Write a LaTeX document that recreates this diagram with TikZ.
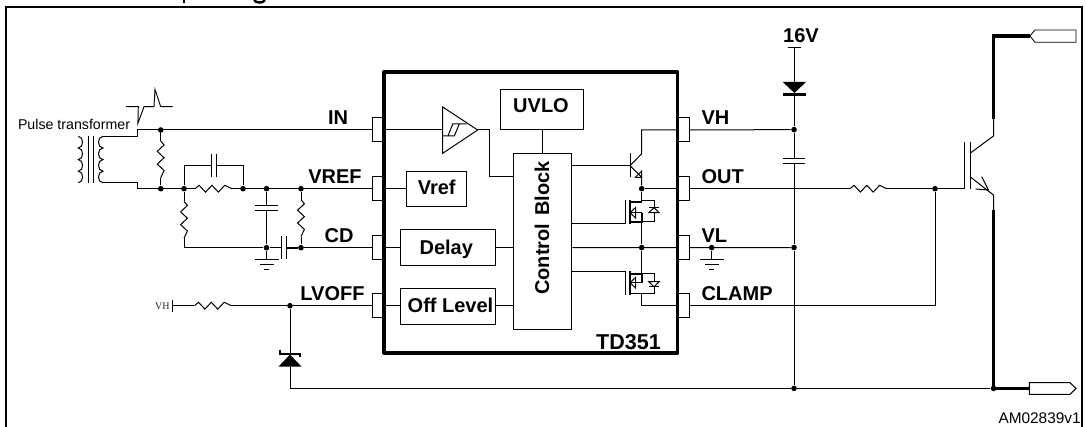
\documentclass[tikz,border=0pt]{standalone}
\usepackage{fontspec}
\setmainfont{Liberation Sans}
\newfontfamily\serifsmall{Liberation Serif}
\tikzset{
  wire/.style={line width=1pt,line join=miter},
  thickwire/.style={line width=3.6pt},
  boxed/.style={draw,line width=1pt,fill=white,inner sep=0pt},
  pinbox/.style={draw,line width=1pt,fill=white,minimum width=12pt,minimum height=24pt,inner sep=0pt},
  junction/.style={circle,fill=black,inner sep=0pt,minimum size=5.6pt},
  lbl/.style={inner sep=0pt,anchor=base,font=\fontsize{20}{20}\selectfont\bfseries},
  lblleft/.style={lbl,anchor=base west},
  resz/.pic={
    \fill[white] (-18.5,-5) rectangle (18.5,5);
    \draw[wire] (-18.4,0)--(-14.4,-3.4)--(-8,3.4)--(-1.6,-3.4)--(4.8,3.4)--(11.2,-3.4)--(18.4,0);
  },
  capa/.pic={
    \fill[white] (-2.6,-5) rectangle (2.6,5);
    \draw[wire] (-2.6,-11.3)--(-2.6,11.3) (2.6,-11.3)--(2.6,11.3);
  },
  gnd/.pic={
    \draw[wire] (-12,0)--(12,0) (-7,5)--(7,5) (-2.5,10)--(2.5,10);
  }
}
\begin{document}
\begin{tikzpicture}[x=1pt,y=-1pt,wire]
\useasboundingbox (0,0) rectangle (1086,427);
\fill[white] (0,0) rectangle (1086,427);
% clipped title descenders and frame
\draw[line width=2.4pt] (184,0)--(184,3);
\draw[line width=2.4pt] (254,0) .. controls (256,3.4) and (263,3.4) .. (265,0);
\draw[line width=2.5pt] (6,427)--(6,7)--(1081.8,7)--(1081.8,427);

% ---- pins
\node[pinbox] (pIN) at (378,130) {};
\node[pinbox] (pVREF) at (378,188.7) {};
\node[pinbox] (pCD) at (378,247.7) {};
\node[pinbox] (pLV) at (378,305.7) {};
\node[pinbox] (pVH) at (683.5,130) {};
\node[pinbox] (pOUT) at (683.5,188.7) {};
\node[pinbox] (pVL) at (683.5,247.7) {};
\node[pinbox] (pCL) at (683.5,306) {};

% ---- IC blocks
\node[boxed,minimum width=82.6pt,minimum height=40.7pt] (uvlo) at (542,109.6) {};
\node[boxed,minimum width=58.7pt,minimum height=175.6pt] (ctl) at (542.6,241.5) {};
\node[boxed,minimum width=59.3pt,minimum height=35.3pt] (vref) at (436.6,188.7) {};
\node[boxed,minimum width=94.7pt,minimum height=35.6pt] (delay) at (448.3,247.5) {};
\node[boxed,minimum width=94.7pt,minimum height=35.6pt] (off) at (448.3,306.5) {};

% ---- junctions and free ends
\coordinate (tT) at (103,136.4);
\coordinate (tB) at (103,182.8);
\coordinate (bendT) at (137.7,136.4);
\coordinate (inS) at (137.7,130);
\coordinate (bendB) at (137.7,182.8);
\coordinate (refS) at (137.7,188.7);
\coordinate (vhbar) at (172.5,305.7);
\coordinate (zen) at (290,366.7);
\coordinate (zenK) at (290,354);
\coordinate (botL) at (290,388.4);
\coordinate (cTop) at (794,48);
\coordinate (dA) at (794,82);
\coordinate (dK) at (794,94.5);
\coordinate (gate) at (964,188.7);
\coordinate (cEnd) at (993.5,136);
\coordinate (eEnd) at (993.5,195);
\coordinate (tagT) at (1030,36);
\coordinate (tagB) at (1029.3,388.4);
\coordinate (thT) at (993.5,36);
\coordinate (thU) at (993.5,119);
\coordinate (thL) at (993.5,210);
\coordinate (cmpI) at (442.7,130);
\coordinate (cmpO) at (477.7,130);
\coordinate (ebend) at (641.7,177.3);
\node[junction] (j1) at (160.7,130) {};
\node[junction] (j2) at (160.7,188.7) {};
\node[junction] (j3) at (184,188.7) {};
\node[junction] (j4) at (243,188.7) {};
\node[junction] (j5) at (266.5,188.7) {};
\node[junction] (j6) at (301,188.7) {};
\node[junction] (j7) at (266.5,247.7) {};
\node[junction] (j8) at (301,247.7) {};
\node[junction] (j9) at (290,305.7) {};
\node[junction] (jOi) at (641.7,188.7) {};
\node[junction] (jVi) at (641.7,247.6) {};
\node[junction] (jVL) at (711.7,247.6) {};
\node[junction] (jVH) at (794,129.6) {};
\node[junction] (jV2) at (794,247.5) {};
\node[junction] (jB) at (794,388.4) {};
\node[junction] (jG) at (935,188.7) {};
\node[junction] (jE) at (993.5,388.4) {};

% ---- input network
\draw (tT)--(bendT)--(inS)--(pIN.west);
\draw (tB)--(bendB)--(refS)--(pVREF.west);
\draw (j1) -- pic[pos=.5,sloped]{resz} (j2);
\draw (j3) |- (243,165.5) -- (j4);
\fill[white] (211.7,160) rectangle (216.9,171);
\draw (211.7,154.2)--(211.7,176.8) (216.9,154.2)--(216.9,176.8);
\fill[white] (194,183) rectangle (233,195);
\path (j3) -- pic[pos=.5]{resz} (j4);
\draw (j3) -- (194.9,188.7);
\draw (232.1,188.7) -- (j4);
\draw (j3) -- pic[pos=.5,sloped]{resz} (184,247.7) -- (j7);
\draw (j5) -- pic[pos=.3,sloped]{capa} (j7);
\draw (j6) -- pic[pos=.5,sloped]{resz} (j8);
\draw (j8) -- (pCD.west);
\draw (j7) -- pic[pos=.5]{capa} (j8);
\draw[line width=2pt] (287,247.7) -- (j8);
\draw (j7) -- (266.5,259.5);
\pic at (266.5,259.5) {gnd};
% transformer
\draw (78.3,136.4)
  \foreach \i in {0,1,2,3} { .. controls (84,{136.4+\i*11.6}) and (84,{148+\i*11.6}) .. (78.3,{148+\i*11.6}) };
\draw (103,136.4)
  \foreach \i in {0,1,2,3} { .. controls (97,{136.4+\i*11.6}) and (97,{148+\i*11.6}) .. (103,{148+\i*11.6}) };
\draw (88.3,136)--(88.3,183) (93.3,136)--(93.3,183);
% pulse waveform
\draw[line width=0.95pt] (126,106.7)--(138.3,106.7)--(137.9,123.3)--(144,106.7)--(154,106.7)--(155,89.3)--(160.7,106.7)--(172.7,106.7);

% ---- LVOFF network
\draw (172.5,300)--(172.5,312);
\draw (vhbar) -- pic[pos=.354]{resz} (j9);
\draw (j9) -- (pLV.west);
\draw (j9) -- (zenK);
\draw (zen) -- (botL) -- (jB);
\draw (jB) -- (jE);
\fill (278.4,366.7)--(301.6,366.7)--(290,354.6)--cycle;
\draw[line width=1.9pt] (280,349.6)--(280,354)--(300.4,354)--(300.4,357);

% ---- IC internals
\draw (pIN.east) -- (cmpI);
\draw (442.7,107)--(cmpO)--(442.7,153.3)--cycle;
\draw (442,136)--(454.3,136)--(459.3,124) (448,136)--(452.7,124)--(466.7,124);
\draw (cmpO) -| (489.7,177) -- (ctl.west |- 489.7,177);
\draw (uvlo.south) -- (ctl.north -| uvlo.south);
\draw (pVREF.east) -- (vref.west);
\draw (pCD.east) -- (delay.west |- pCD.east);
\draw (pLV.east) -- (off.west |- pLV.east);
\draw (delay.east |- pCD.east) -- (ctl.west |- pCD.east);
\draw (off.east |- pLV.east) -- (ctl.west |- pLV.east);
% NPN
\draw (ctl.east |- 0,165.7) -- (630,165.7);
\draw (630,153.3)--(630,177.3);
\draw (630,165.7)--(641.7,153.7)--(641.7,130)--(pVH.west);
\draw (630,165.7)--(ebend)--(jOi);
\draw (635.5,177.3)--(641.7,177.3)--(641.7,171)--cycle;
\draw (jOi) -- (pOUT.west);
\draw (ctl.east |- jVi) -- (pVL.west);
% upper MOSFET
\draw (ctl.east |- 0,223.7) -- (625,223.7) -- (625,200);
\draw[line width=1.8pt] (630,200)--(630,224) (630,201.7)--(642,201.7) (630,221.7)--(642,221.7)--(642,212.7);
\draw (642,212.7)--(630,212.7);
\draw (635.5,207.5)--(630,212.7)--(635.5,217.9)--cycle;
\draw (jOi) -- (641.7,201.7);
\draw (641.7,200.7)--(654,200.7)--(654,221.7)--(641.7,221.7);
\draw[fill=white] (654,207.7)--(648.8,212.7)--(659.2,212.7)--cycle;
\draw (648.8,207.7)--(659.2,207.7);
\draw (641.7,221.7) -- (jVi);
% lower MOSFET
\draw (ctl.east |- 0,271.3) -- (625,271.3) -- (625,294.7);
\draw[line width=1.8pt] (630,271)--(630,295) (630,273.7)--(642,273.7)--(642,282.7);
\draw (642,282.7)--(630,282.7) (630,293.3)--(642,293.3);
\draw (635.5,277.5)--(630,282.7)--(635.5,287.9)--cycle;
\draw (jVi) -- (641.7,273.7);
\draw (641.7,273.7)--(654,273.7)--(654,293.3)--(641.7,293.3);
\draw[fill=white] (654,286.7)--(648.8,281.7)--(659.2,281.7)--cycle;
\draw (648.8,286.7)--(659.2,286.7);
\draw (641.7,293.3) -- (641.7,306) -- (pCL.west);

% ---- IC outline
\draw[line width=3.2pt,line join=round] (384,72) rectangle (677.7,353);

% ---- right side
\draw (pVH.east) -- (jVH);
\draw (pOUT.east) -- pic[pos=.738]{resz} (jG);
\draw (jG) -- (gate);
\draw (pVL.east) -- (jV2);
\draw (jVL) -- (711.7,259.4);
\pic at (711.7,259.4) {gnd};
\draw (pCL.east) -| (jG);
\draw (787.5,48)--(801,48);
\draw (cTop) -- (dA);
\fill (782.8,82)--(806,82)--(794.4,93)--cycle;
\draw[line width=2.2pt] (783,94.5)--(806,94.5);
\draw (dK) -- (jVH);
\draw (jVH) -- pic[pos=.25,sloped]{capa} (jV2);
\draw (jV2) -- (jB);
% IGBT
\draw (gate) -- (964,141.7);
\draw (970,141.7)--(970,189);
\draw (970,153.3)--(cEnd)--(thU);
\draw (970,176.7)--(eEnd)--(thL);
\draw (981.7,176.7)--(988.3,190)--(975.7,189);
\draw[thickwire,line join=miter] (thU)--(thT)--(tagT);
\draw[thickwire] (thL)--(jE.center)--(tagB);
\draw[fill=white,line width=0.8pt] (tagT)--(1035,30)--(1076,30)--(1076,42.3)--(1035,42.3)--cycle;
\draw[fill=white,line width=1pt] (tagB |- 0,382.7)--(1070,382.7)--(1076,388.4)--(1070,394.3)--(tagB |- 0,394.3)--cycle;

% ---- labels
\node[lbl] (tIN) at (338,125) {IN};
\node[lbl] (tVREF) at (335,184) {VREF};
\node[lbl] (tCD) at (339,242.7) {CD};
\node[lbl] (tLV) at (332.5,301) {LVOFF};
\node[lblleft] (tVH) at (701,125) {VH};
\node[lblleft] (tOUT) at (701,184) {OUT};
\node[lblleft] (tVL) at (701,242.7) {VL};
\node[lblleft] (tCL) at (701,300.5) {CLAMP};
\node[lbl] (t16) at (801,42.7) {16V};
\node[lbl] (tUV) at (541,112.7) {UVLO};
\node[lbl] (tVr) at (436.7,195) {Vref};
\node[lbl] (tDe) at (446.3,255) {Delay};
\node[lbl] (tOf) at (450.5,312.7) {Off Level};
\node[lbl,font=\fontsize{21.5}{21.5}\selectfont\bfseries] (tTD) at (628.5,349) {TD351};
\node[inner sep=0pt,rotate=90,font=\fontsize{20}{20}\selectfont\bfseries] (tCtl) at (542,228) {Control\hspace{8pt}Block};
\node[inner sep=0pt,anchor=base west,font=\fontsize{14.2}{14.2}\selectfont] (tPT) at (17.5,130) {Pulse transformer};
\node[inner sep=0pt,anchor=base west,font=\fontsize{15.4}{15.4}\selectfont] (tAM) at (998,423.7) {AM02839v1};
\node[inner sep=0pt,anchor=base east,text=black!85,font=\serifsmall\fontsize{10}{10}\selectfont] (tvh) at (170,310) {VH};
\end{tikzpicture}
\end{document}
